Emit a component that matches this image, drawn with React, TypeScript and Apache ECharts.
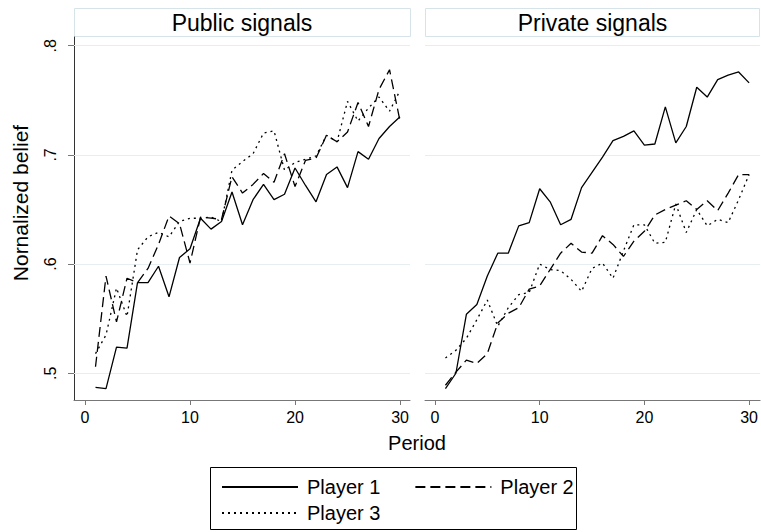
import { useEffect, useRef } from 'react';
import * as echarts from 'echarts';

const periods = [1, 2, 3, 4, 5, 6, 7, 8, 9, 10, 11, 12, 13, 14, 15, 16, 17, 18, 19, 20, 21, 22, 23, 24, 25, 26, 27, 28, 29, 30];

const publicP1 = [0.487, 0.486, 0.524, 0.523, 0.583, 0.583, 0.598, 0.570, 0.606, 0.614, 0.642, 0.632, 0.639, 0.666, 0.636, 0.659, 0.673, 0.659, 0.664, 0.688, 0.672, 0.657, 0.682, 0.689, 0.670, 0.703, 0.696, 0.715, 0.726, 0.735];
const publicP2 = [0.506, 0.589, 0.547, 0.587, 0.583, 0.596, 0.618, 0.644, 0.637, 0.601, 0.643, 0.642, 0.641, 0.680, 0.665, 0.673, 0.683, 0.675, 0.701, 0.671, 0.695, 0.697, 0.718, 0.712, 0.721, 0.748, 0.726, 0.760, 0.778, 0.731];
const publicP3 = [0.518, 0.535, 0.578, 0.552, 0.613, 0.625, 0.629, 0.625, 0.639, 0.642, 0.642, 0.643, 0.639, 0.686, 0.694, 0.701, 0.720, 0.722, 0.686, 0.693, 0.696, 0.699, 0.718, 0.712, 0.749, 0.731, 0.743, 0.753, 0.740, 0.759];

const privateP1 = [0.486, 0.500, 0.554, 0.563, 0.589, 0.610, 0.610, 0.635, 0.638, 0.669, 0.657, 0.636, 0.641, 0.670, 0.684, 0.698, 0.713, 0.717, 0.722, 0.709, 0.710, 0.744, 0.711, 0.726, 0.762, 0.753, 0.769, 0.773, 0.776, 0.766];
const privateP2 = [0.489, 0.501, 0.512, 0.509, 0.518, 0.546, 0.555, 0.560, 0.577, 0.580, 0.595, 0.610, 0.619, 0.611, 0.610, 0.626, 0.618, 0.607, 0.621, 0.630, 0.645, 0.650, 0.654, 0.658, 0.650, 0.658, 0.649, 0.665, 0.682, 0.682];
const privateP3 = [0.514, 0.521, 0.532, 0.549, 0.567, 0.543, 0.560, 0.572, 0.574, 0.600, 0.595, 0.594, 0.586, 0.575, 0.596, 0.601, 0.587, 0.612, 0.636, 0.636, 0.619, 0.620, 0.655, 0.629, 0.650, 0.635, 0.641, 0.638, 0.659, 0.682];

const seriesNames = ['Player 1', 'Player 2', 'Player 3'];
const panelTitles = ['Public signals', 'Private signals'];
const yTicks = [0.5, 0.6, 0.7, 0.8];
const xTicks = [0, 10, 20, 30];
const yTitle = 'Nornalized belief';
const xTitle = 'Period';

const FONT = '"Liberation Sans", Arial, Helvetica, sans-serif';

export default function App() {
  const ref = useRef<HTMLDivElement>(null);

  useEffect(() => {
    if (!ref.current) return;
    const chart = echarts.init(ref.current, null, { renderer: 'svg' });

    const lineTypes: any[] = ['solid', [10, 5], [2, 4]];
    const panels = [
      [publicP1, publicP2, publicP3],
      [privateP1, privateP2, privateP3],
    ];

    const gridMark = {
      silent: true,
      symbol: ['none', 'none'],
      z: 1,
      label: { show: false },
      lineStyle: { color: '#e6eef1', width: 1, type: 'solid' },
      data: yTicks.map((v) => ({ yAxis: v })),
    };

    const series: any[] = [];
    panels.forEach((vals, pi) => {
      vals.forEach((arr, si) => {
        series.push({
          type: 'line',
          name: seriesNames[si],
          xAxisIndex: pi,
          yAxisIndex: pi,
          data: periods.map((t, i) => [t, arr[i]]),
          symbol: 'none',
          z: 3,
          lineStyle: { color: '#000', width: 1.3, type: lineTypes[si] },
          itemStyle: { color: '#000' },
          ...(si === 0 ? { markLine: gridMark } : {}),
        });
      });
    });

    const xAxisBase = (idx: number, min: number, max: number) => ({
      type: 'value',
      gridIndex: idx,
      min,
      max,
      axisLine: { show: true, onZero: false, lineStyle: { color: '#777', width: 1 } },
      axisTick: { show: true, length: 5, customValues: xTicks, lineStyle: { color: '#777' } },
      axisLabel: { customValues: xTicks, fontSize: 16, color: '#000', margin: 9, fontFamily: FONT },
      splitLine: { show: false },
    });

    const legendBase = {
      orient: 'horizontal',
      itemWidth: 76,
      itemHeight: 20,
      itemGap: 34,
      padding: 0,
      selectedMode: false,
      itemStyle: { opacity: 0 },
      textStyle: { fontSize: 20, color: '#000', fontFamily: FONT, padding: [0, 0, 0, 4] },
    };

    const option: any = {
      animation: false,
      backgroundColor: '#fff',
      textStyle: { fontFamily: FONT },
      grid: [
        { left: 74, top: 37, width: 336, height: 363 },
        { left: 425, top: 37, width: 336, height: 363 },
      ],
      xAxis: [xAxisBase(0, -1.048, 30.95), xAxisBase(1, -0.952, 31.05)],
      yAxis: [
        {
          type: 'value',
          gridIndex: 0,
          min: 0.4755,
          max: 0.808,
          axisLine: { show: true, onZero: false, lineStyle: { color: '#333', width: 1 } },
          axisTick: { show: true, length: 6, customValues: yTicks, lineStyle: { color: '#777' } },
          axisLabel: {
            customValues: yTicks,
            rotate: 90,
            fontSize: 16,
            color: '#000',
            margin: 16,
            fontFamily: FONT,
            formatter: (v: number) => v.toFixed(1).replace(/^0/, ''),
          },
          splitLine: { show: false },
        },
        {
          type: 'value',
          gridIndex: 1,
          min: 0.4755,
          max: 0.808,
          show: false,
          splitLine: { show: false },
        },
      ],
      legend: [
        { ...legendBase, data: [seriesNames[0], seriesNames[1]], left: 221, top: 477 },
        { ...legendBase, data: [seriesNames[2]], left: 221, top: 503 },
      ],
      graphic: [
        {
          type: 'rect',
          shape: { x: 74.5, y: 8.5, width: 336, height: 28 },
          style: { fill: '#fff', stroke: '#d6e3e8', lineWidth: 1 },
        },
        {
          type: 'text',
          x: 242,
          y: 22.5,
          style: { text: panelTitles[0], fontSize: 23, fill: '#000', textAlign: 'center', textVerticalAlign: 'middle', fontFamily: FONT },
        },
        {
          type: 'rect',
          shape: { x: 425.5, y: 8.5, width: 334, height: 28 },
          style: { fill: '#fff', stroke: '#d6e3e8', lineWidth: 1 },
        },
        {
          type: 'text',
          x: 592.5,
          y: 22.5,
          style: { text: panelTitles[1], fontSize: 23, fill: '#000', textAlign: 'center', textVerticalAlign: 'middle', fontFamily: FONT },
        },
        {
          type: 'text',
          x: 20,
          y: 203,
          rotation: Math.PI / 2,
          style: { text: yTitle, fontSize: 21, fill: '#000', textAlign: 'center', textVerticalAlign: 'middle', fontFamily: FONT },
        },
        {
          type: 'text',
          x: 417,
          y: 443,
          style: { text: xTitle, fontSize: 20, fill: '#000', textAlign: 'center', textVerticalAlign: 'middle', fontFamily: FONT },
        },
        {
          type: 'rect',
          shape: { x: 210.5, y: 467.5, width: 366, height: 62 },
          style: { fill: 'none', stroke: '#000', lineWidth: 1 },
        },
      ],
      series,
    };

    chart.setOption(option);
    return () => chart.dispose();
  }, []);

  return (
    <div
      ref={ref}
      style={{ position: 'fixed', left: 0, top: 0, width: 761, height: 532, background: '#fff' }}
    />
  );
}
